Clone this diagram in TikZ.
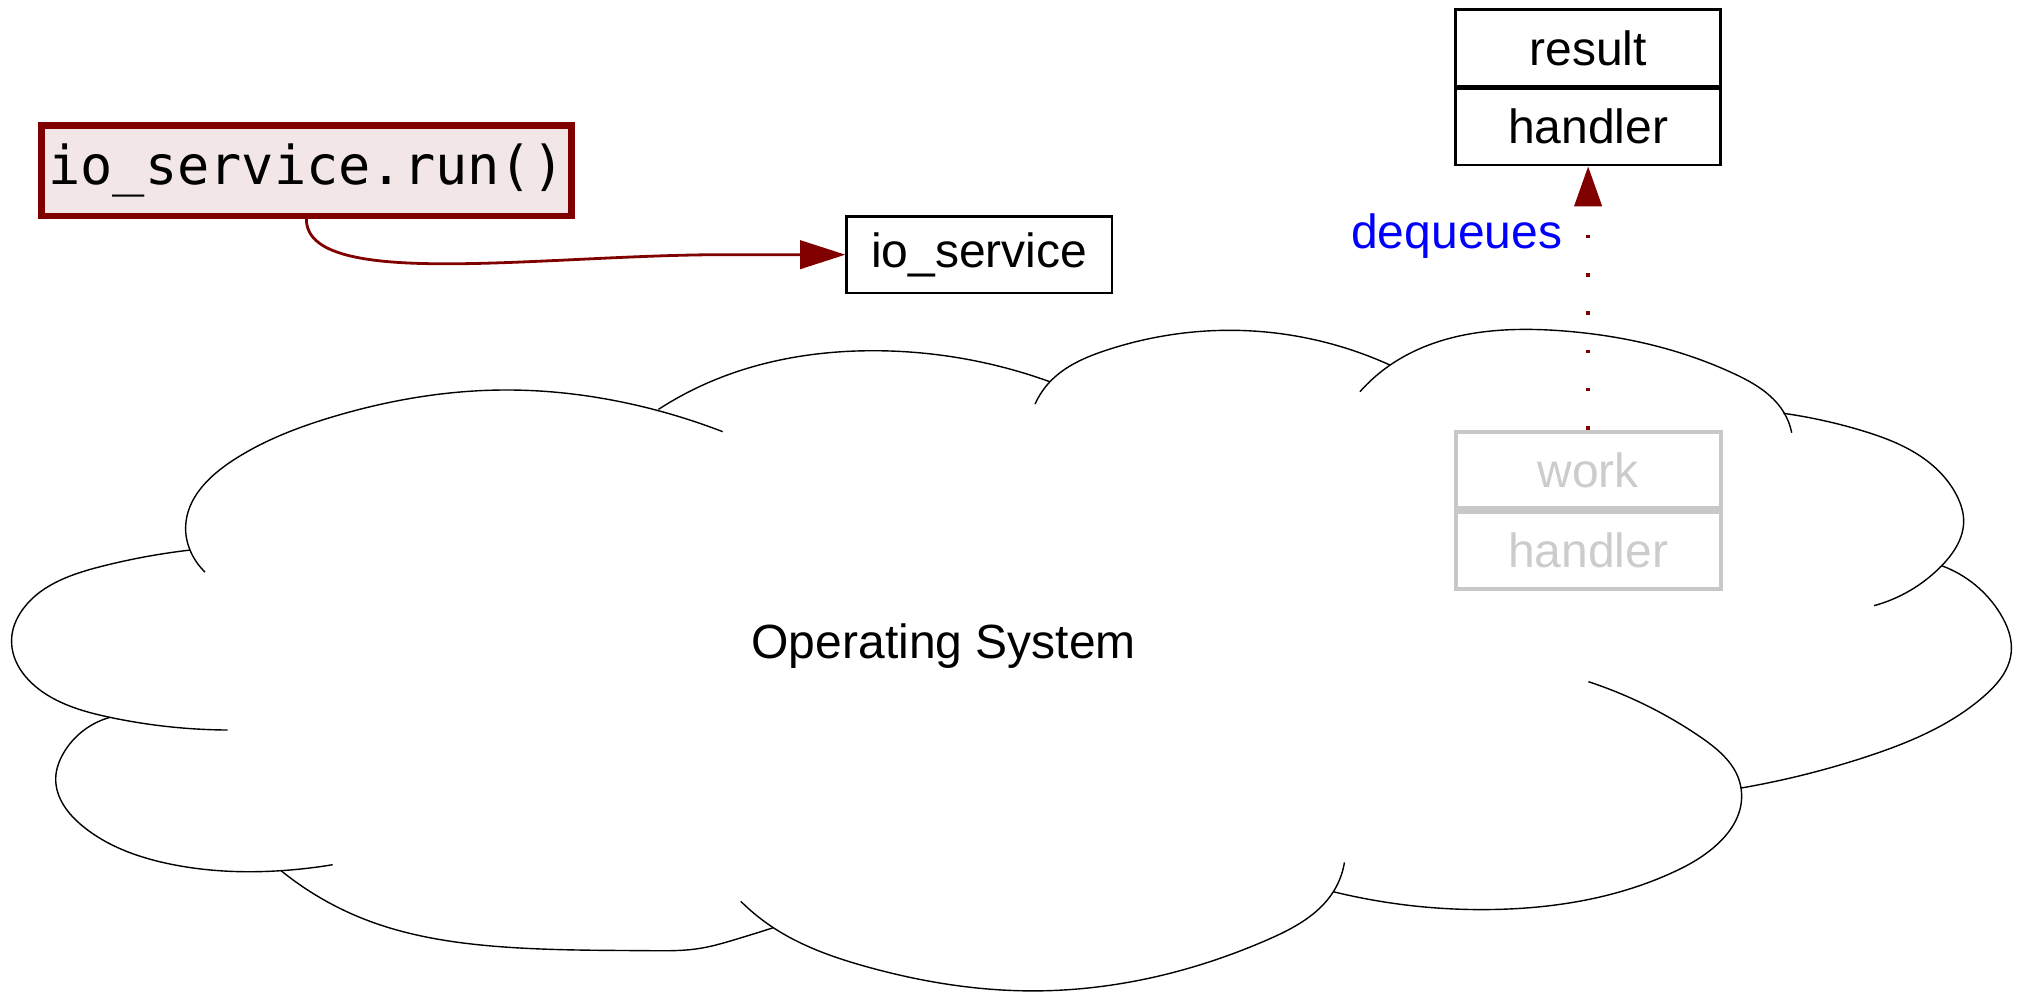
\documentclass[tikz,border=0pt]{standalone}
\usepackage{fontspec}
\setmainfont{Liberation Sans}
\newfontfamily\codefont{DejaVu Sans Mono}
\usetikzlibrary{arrows.meta,hobby}
\definecolor{maroon}{RGB}{128,0,0}
\definecolor{runfill}{RGB}{242,230,230}
\definecolor{faded}{RGB}{200,200,200}
\definecolor{fadedtext}{RGB}{204,204,204}
\definecolor{labelblue}{RGB}{0,0,255}
\begin{document}
\begin{tikzpicture}[x=0.3232pt,y=-0.3232pt,
  every node/.style={font=\fontsize{12}{14.4}\selectfont},
  cell/.style={draw=black,line width=0.65pt,minimum width=66.3pt,minimum height=19.1pt,inner sep=0pt},
  fadedcell/.style={draw=faded,line width=1pt,text=fadedtext,minimum width=66.3pt,minimum height=19.1pt,inner sep=0pt},
  callbox/.style={draw=maroon,fill=runfill,line width=1.6pt,minimum width=132.5pt,minimum height=22.6pt,inner sep=0pt,font=\codefont\fontsize{13.4}{16}\selectfont},
  lobe/.style={draw=black,line width=0.35pt,use Hobby shortcut},
  flow/.style={draw=maroon,line width=0.7pt,-{Triangle[length=11.3pt,width=7.1pt]}},
  dequeue/.style={draw=maroon,line width=0.9pt,dash pattern=on 0.9pt off 8.67pt,-{Triangle[length=10pt,width=6.8pt]}}
]
\useasboundingbox (0,0) rectangle (1568,767);

% cloud outline, lobe by lobe (clockwise from the upper left)
\draw[lobe] (158.6,442.5) .. (147,425.5) .. (143.6,407.4) .. (180.5,355.9) .. (257.8,322.3) .. (386.8,301.7) .. (495.1,314.1) .. (559,333.9);
\draw[lobe] (509.3,316.7) .. (546.7,296.5) .. (678.2,271.3) .. (812.2,295.3);
\draw[lobe] (800.7,312.5) .. (812.2,295.3) .. (856.1,270.8) .. (950,255.5) .. (1075.3,282.4);
\draw[lobe] (1052,303) .. (1075.3,282.4) .. (1206.8,255.8) .. (1340.8,288.8) .. (1379.6,318.5) .. (1386,334.7);
\draw[lobe] (1379.6,319.7) .. (1440,333) .. (1490,356) .. (1514,384) .. (1519,403) .. (1502,437.6) .. (1449.7,468.5);
\draw[lobe] (1502,437.6) .. (1547.2,474.5) .. (1555.7,505.4) .. (1534.3,538.9) .. (1444,585.3) .. (1346.6,609.6);
\draw[lobe] (1228.7,527.3) .. (1315.1,569.9) .. (1346.6,608.6) .. (1300,672) .. (1160.4,703.4) .. (1031.4,689.8);
\draw[lobe] (1040,667.1) .. (1031.4,689.8) .. (979.9,727.2) .. (800,766.5) .. (670.4,747.8) .. (598.2,717.6) .. (573,697.2);
\draw[lobe] (217.4,673.5) .. (283.6,711.7) .. (386.8,732.3) .. (502.8,735.4) .. (541.5,733.6) .. (567.3,727.2) .. (598.2,717.6);
\draw[lobe] (85.1,554.9) .. (49,582.8) .. (43.1,602.1) .. (64.5,639.5) .. (128.9,667.8) .. (217.4,673.5) .. (257.3,668.9);
\draw[lobe] (147,425.5) .. (77.4,438.4) .. (15.5,474.5) .. (9,493.8) .. (38.7,538.9) .. (85.1,554.9) .. (176.1,564.7);

\node (os) at (730,500) {Operating System};

% caller and service
\node[callbox] (run) at (237,132) {io\_service.run()};
\node[cell] (svc) at (757.5,197) {io\_service};

% completed operation
\node[cell] (res) at (1228.5,37) {result};
\node[cell,anchor=north] (hdl) at (res.south) {handler};

% pending operation
\node[fadedcell] (work) at (1228.5,363.5) {work};
\node[fadedcell,anchor=north] (whdl) at (work.south) {handler};

% connectors
\draw[flow] (run.south) .. controls (237,225) and (420,197) .. (560,197) -- (svc.west);
\draw[dequeue] (work.north) -- (hdl.south);
\node[text=labelblue,anchor=east,inner sep=0pt] (lbl) at (1209,183) {dequeues};
\end{tikzpicture}
\end{document}
